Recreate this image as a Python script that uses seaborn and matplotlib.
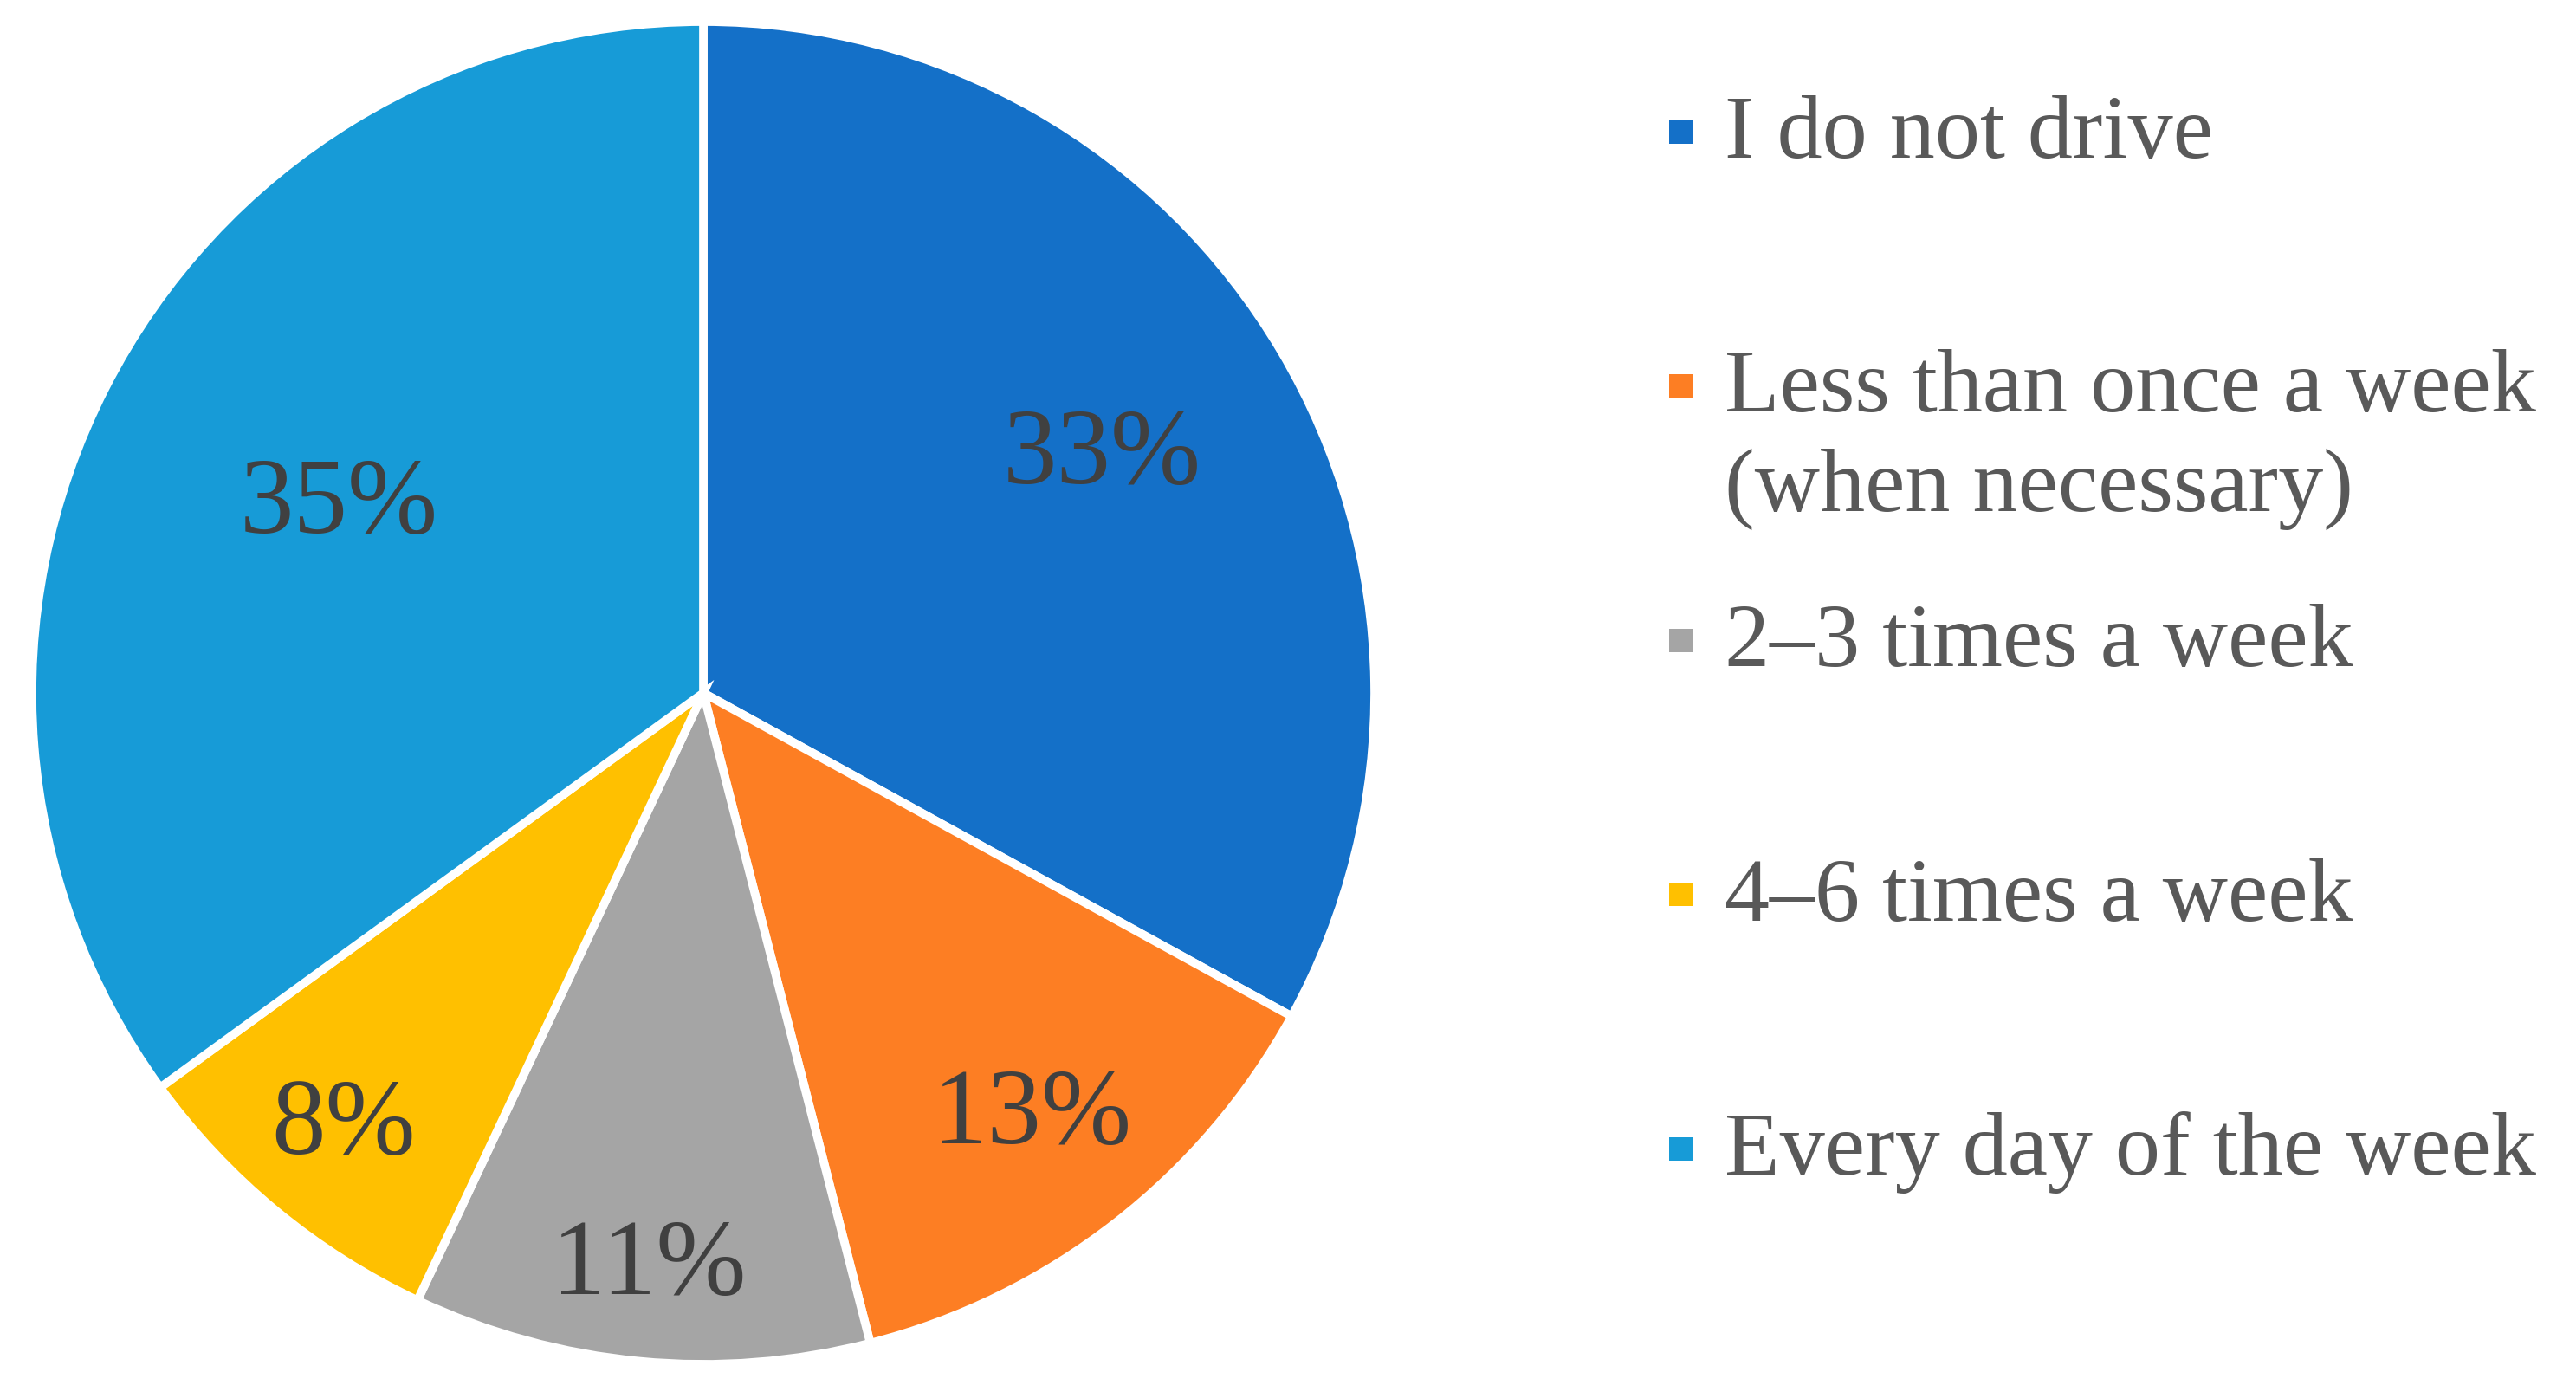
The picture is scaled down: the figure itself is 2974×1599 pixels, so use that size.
import matplotlib
matplotlib.use("Agg")
import matplotlib.pyplot as plt
import matplotlib.patches as mpatches
import seaborn as sns
import numpy as np

categories = ["I do not drive", "Less than once a week\n(when necessary)",
              "2\u20133 times a week", "4\u20136 times a week", "Every day of the week"]
values = [33, 13, 11, 8, 35]
pct_labels = ["33%", "13%", "11%", "8%", "35%"]
colors = ["#1470C8", "#FD7E23", "#A5A5A5", "#FFC000", "#179BD7"]
label_dist = [0.69, 0.80, 0.86, 0.84, 0.61]

sns.set_theme(style="white")
plt.rcParams['font.family'] = ['Liberation Serif', 'DejaVu Serif']

W, H = 2974, 1599
fig = plt.figure(figsize=(W / 100, H / 100), dpi=100)
fig.patch.set_facecolor("white")

cx, cy, R = 812, 800, 775
ax = fig.add_axes([(cx - R) / W, (H - cy - R) / H, 2 * R / W, 2 * R / H])
palette = sns.color_palette(colors)
wedges, _ = ax.pie(values, colors=palette, startangle=90, counterclock=False,
                   wedgeprops=dict(edgecolor="white", linewidth=7), radius=1.0)
ax.set_xlim(-1, 1)
ax.set_ylim(-1, 1)
ax.set_aspect("equal")
ax.axis("off")

for w, lab, d in zip(wedges, pct_labels, label_dist):
    ang = np.deg2rad((w.theta1 + w.theta2) / 2)
    ax.text(d * np.cos(ang), d * np.sin(ang), lab, ha="center", va="center",
            fontsize=90, color="#404040")

# legend
y0 = 182
step = 293.5
line_step = 114
tx = 1991
msize = 27
for i, (cat, col) in enumerate(zip(categories, palette)):
    yb = y0 + i * step
    for j, line in enumerate(cat.split("\n")):
        fig.text(tx / W, 1 - (yb + j * line_step) / H, line, ha="left", va="baseline",
                 fontsize=75, color="#595959")
    ymc = yb - 30
    fig.patches.append(mpatches.Rectangle((1927 / W, 1 - (ymc + msize / 2) / H),
                                          msize / W, msize / H, transform=fig.transFigure,
                                          facecolor=col, edgecolor="none"))

fig.savefig("out.png", dpi=100, facecolor="white")
